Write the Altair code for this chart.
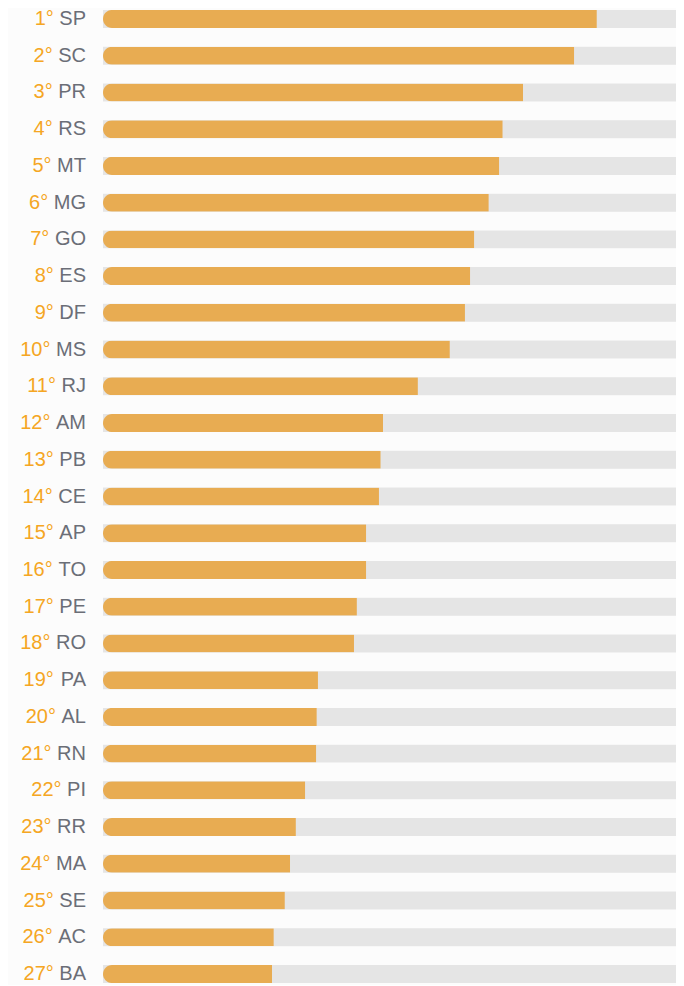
import altair as alt
import pandas as pd

states = ["SP", "SC", "PR", "RS", "MT", "MG", "GO", "ES", "DF", "MS", "RJ", "AM", "PB", "CE",
          "AP", "TO", "PE", "RO", "PA", "AL", "RN", "PI", "RR", "MA", "SE", "AC", "BA"]
values = [85.0, 81.1, 72.3, 68.8, 68.2, 66.4, 63.9, 63.2, 62.3, 59.7, 54.2, 48.2, 47.8, 47.5,
          45.3, 45.3, 43.7, 43.2, 37.0, 36.8, 36.7, 34.8, 33.2, 32.2, 31.3, 29.4, 29.1]
ranks = [f"{i + 1}°" for i in range(len(states))]

FONT = "Liberation Sans"
FS = 20
LABEL_X = 78
# Arial/Liberation Sans advance widths (per 1000 em) for capitals
ADV = {"A": 667, "B": 667, "C": 722, "D": 722, "E": 667, "F": 611, "G": 778, "H": 722, "I": 278,
       "J": 500, "K": 667, "L": 556, "M": 833, "N": 722, "O": 778, "P": 667, "R": 722, "S": 667,
       "T": 611, "U": 722, "V": 667, "W": 944, "X": 667, "Y": 667, "Z": 611}


def text_w(s):
    return sum(ADV.get(c, 667) for c in s) * FS / 1000.0


df = pd.DataFrame({"state": states, "value": values, "rank": ranks})
df["full"] = 100
df["rank_x"] = [LABEL_X - text_w(s) - 278 * FS / 1000.0 for s in states]

W = 668
H = 977
y = alt.Y("state:N", sort=states, axis=None,
          scale=alt.Scale(paddingInner=0.51, paddingOuter=0.054))
xs = alt.Scale(domain=[0, 100], range=[95, 676], nice=False, zero=True)

track = alt.Chart(df).mark_bar(color="#e5e5e5").encode(
    x=alt.X("full:Q", scale=xs, axis=None), y=y
)
bars = alt.Chart(df).mark_bar(color="#e8ac52", cornerRadiusTopLeft=9,
                              cornerRadiusBottomLeft=9).encode(
    x=alt.X("value:Q", scale=xs, axis=None), y=y
)
codes = alt.Chart(df).mark_text(align="right", baseline="middle", font=FONT, fontSize=FS,
                                color="#6b6e77").encode(
    x=alt.value(LABEL_X), y=y, text="state:N"
)
rank_txt = alt.Chart(df).mark_text(align="right", baseline="middle", font=FONT, fontSize=FS,
                                   color="#f5a623").encode(
    x=alt.X("rank_x:Q", scale=None), y=y, text="rank:N"
)

chart = alt.layer(track, bars, codes, rank_txt).properties(
    width=W, height=H, padding=0, background="#fcfcfc",
    autosize=alt.AutoSizeParams(type="none")
).configure_view(stroke=None)

chart.save("out.html", embed_options={"renderer": "svg", "actions": False})
